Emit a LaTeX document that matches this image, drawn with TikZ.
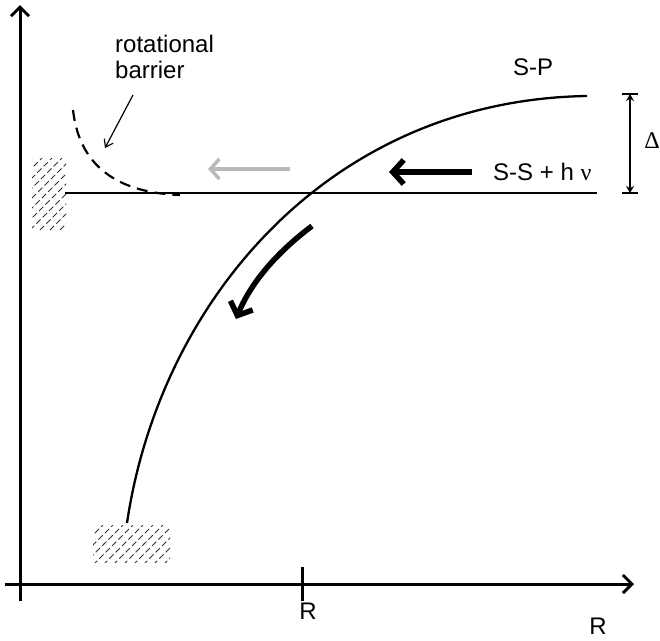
\documentclass[tikz,border=0pt]{standalone}
\usepackage{fontspec}
\setmainfont{Liberation Sans}
\newfontfamily\symfont{Liberation Serif}
\usetikzlibrary{arrows.meta}
\begin{document}
\begin{tikzpicture}[x=1pt,y=-1pt,
  lbl/.style={font=\fontsize{24}{28}\selectfont, inner sep=0pt},
  axis/.style={line width=3pt, -{Straight Barb[length=9pt,width=18pt,line width=3pt]}},
  thickarr/.style={line width=5.5pt, -{Straight Barb[length=11pt,width=24pt,line width=5.5pt]}},
  hatch/.style={line width=0.9pt, black!80, dash pattern=on 6pt off 3pt}]
\useasboundingbox (0,0) rectangle (660,640);
% axes
\coordinate (yb) at (20,601);
\coordinate (yt) at (20,5);
\coordinate (xl) at (5,584);
\coordinate (xr) at (634,584);
\draw[axis] (yb) -- (yt);
\draw[axis] (xl) -- (xr);
\coordinate (tk1) at (302,567);
\coordinate (tk2) at (302,601);
\draw[line width=3pt] (tk1) -- (tk2);
\node[lbl] (R1) at (308,611) {R};
\node[lbl] (R2) at (598,626) {R};
% hatched boxes
\begin{scope}
\clip (32,158) rectangle (66,230);
\foreach \i in {0,10,...,120} {\draw[hatch] (32+\i-72,230) -- (32+\i,158);}
\end{scope}
\begin{scope}
\clip (93,525) rectangle (170,562);
\foreach \i in {0,10,...,130} {\draw[hatch] (93+\i-40,565) -- (93+\i,525);}
\end{scope}
% S-S level
\coordinate (ssl) at (65,193);
\coordinate (ssr) at (597,193);
\draw[line width=2.3pt] (ssl) -- (ssr);
% S-P curve
\coordinate (spa) at (127,523);
\coordinate (spb) at (587,96);
\draw[line width=2.3pt] (spa) .. controls (160,300) and (330,100) .. (spb);
\node[lbl] (SP) at (533,67) {S-P};
% barrier
\coordinate (ba) at (73,110);
\coordinate (bb) at (180,195);
\draw[line width=2.2pt, dash pattern=on 11pt off 7pt] (ba) .. controls (80,172) and (125,193) .. (bb);
\node[lbl, align=left, anchor=north west] (rb) at (115,35) {rotational\\[-2pt]barrier};
\coordinate (ra) at (133,95);
\coordinate (rbt) at (105,148);
\draw[line width=1.2pt, -{Straight Barb[length=7pt,width=10pt]}] (ra) -- (rbt);
% horizontal arrows
\coordinate (ga) at (290,169);
\coordinate (gb) at (208,169);
\draw[line width=3.5pt, gray!55, -{Straight Barb[length=9pt,width=20pt,line width=3.5pt]}] (ga) -- (gb);
\coordinate (ka) at (472,172);
\coordinate (kb) at (389,172);
\draw[thickarr] (ka) -- (kb);
\node[lbl, anchor=west] (ss) at (493,172) {S-S + h {\symfont ν}};
% curved arrow
\coordinate (ca) at (312,226);
\coordinate (cb) at (236,319);
\draw[thickarr] (ca) .. controls (280,250) and (252,280) .. (cb);
% Delta
\coordinate (dt) at (630,94);
\coordinate (db) at (630,193);
\draw[line width=1.5pt, {Stealth[length=7pt,width=8pt]}-{Stealth[length=7pt,width=8pt]}] (dt) -- (db);
\draw[line width=1.5pt] (622,94) -- (638,94) (622,193) -- (638,193);
\node[lbl] (D) at (652,141) {\symfont Δ};
\end{tikzpicture}
\end{document}
